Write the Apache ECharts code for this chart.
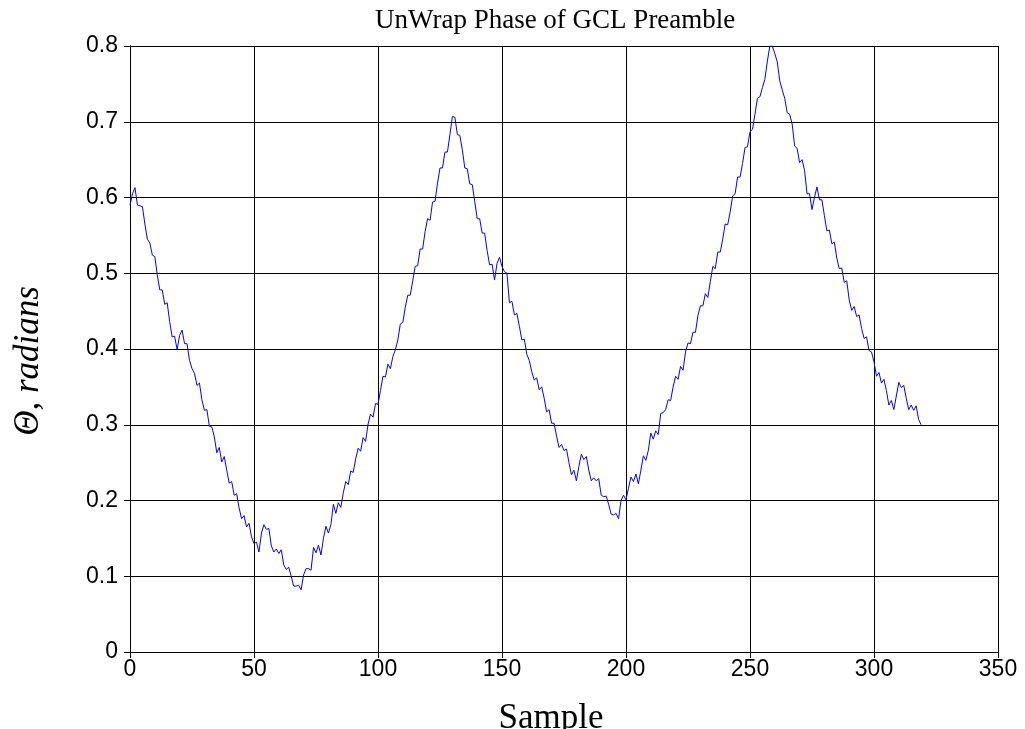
<!DOCTYPE html>
<html>
<head>
<meta charset="utf-8">
<script src="https://cdn.jsdelivr.net/npm/echarts@6/dist/echarts.min.js"></script>
<style>html,body{margin:0;padding:0;background:#fff}#c{width:1025px;height:729px}</style>
</head>
<body>
<div id="c"></div>
<script>
const titleText = 'UnWrap Phase of GCL Preamble';
const xName = 'Sample';
const yName = 'Θ, radians';
const xTickLabels = ['0','50','100','150','200','250','300','350'];
const yTickLabels = ['0','0.1','0.2','0.3','0.4','0.5','0.6','0.7','0.8'];
// unwrapped phase, one value per sample (sample index = position)
const phase = [
0.590,0.605,0.613,0.590,0.589,0.588,0.565,0.545,0.540,0.524,
0.522,0.498,0.478,0.478,0.459,0.461,0.436,0.416,0.417,0.399,
0.418,0.425,0.407,0.407,0.385,0.374,0.368,0.352,0.355,0.333,
0.319,0.320,0.298,0.297,0.284,0.263,0.270,0.251,0.258,0.240,
0.223,0.225,0.207,0.209,0.190,0.176,0.180,0.165,0.170,0.152,
0.143,0.145,0.132,0.157,0.168,0.162,0.163,0.140,0.132,0.136,
0.130,0.135,0.115,0.109,0.112,0.100,0.087,0.087,0.088,0.082,
0.102,0.110,0.110,0.108,0.138,0.131,0.141,0.128,0.150,0.166,
0.157,0.168,0.195,0.183,0.197,0.191,0.210,0.225,0.221,0.239,
0.237,0.255,0.269,0.265,0.283,0.278,0.301,0.314,0.310,0.328,
0.327,0.345,0.364,0.363,0.380,0.374,0.390,0.399,0.412,0.433,
0.435,0.455,0.471,0.471,0.490,0.509,0.510,0.532,0.532,0.555,
0.572,0.570,0.594,0.595,0.619,0.639,0.639,0.660,0.660,0.683,
0.707,0.706,0.683,0.682,0.663,0.639,0.638,0.618,0.617,0.595,
0.572,0.572,0.553,0.553,0.530,0.511,0.512,0.491,0.513,0.521,
0.509,0.502,0.500,0.461,0.463,0.445,0.447,0.430,0.412,0.413,
0.393,0.385,0.370,0.359,0.362,0.346,0.350,0.335,0.317,0.320,
0.302,0.302,0.285,0.270,0.274,0.266,0.268,0.250,0.234,0.240,
0.226,0.245,0.261,0.254,0.258,0.240,0.226,0.230,0.226,0.229,
0.207,0.205,0.206,0.195,0.182,0.181,0.183,0.176,0.200,0.207,
0.201,0.216,0.231,0.225,0.235,0.222,0.240,0.259,0.253,0.266,
0.289,0.281,0.292,0.287,0.315,0.316,0.320,0.333,0.332,0.350,
0.364,0.360,0.377,0.372,0.396,0.408,0.407,0.422,0.422,0.444,
0.457,0.457,0.473,0.468,0.489,0.509,0.506,0.528,0.528,0.545,
0.565,0.564,0.581,0.602,0.605,0.627,0.627,0.645,0.666,0.667,
0.687,0.690,0.710,0.731,0.733,0.745,0.756,0.780,0.800,0.800,
0.790,0.779,0.754,0.742,0.731,0.712,0.710,0.697,0.668,0.665,
0.646,0.650,0.636,0.605,0.605,0.584,0.600,0.614,0.597,0.597,
0.576,0.556,0.557,0.539,0.541,0.520,0.506,0.507,0.488,0.490,
0.465,0.451,0.456,0.443,0.445,0.427,0.414,0.416,0.398,0.396,
0.383,0.364,0.369,0.355,0.360,0.345,0.326,0.332,0.320,0.338,
0.356,0.349,0.352,0.335,0.320,0.326,0.319,0.325,0.307,0.300
];

const chart = echarts.init(document.getElementById('c'), null, {renderer:'canvas'});
const axisLineStyle = {lineStyle:{color:'#000', width:1}};
const fmtX = v => { const i = Math.round(v/50); return xTickLabels[i] !== undefined ? xTickLabels[i] : ''; };
const fmtY = v => { const i = Math.round(v*10); return yTickLabels[i] !== undefined ? yTickLabels[i] : ''; };
chart.setOption({
  animation:false,
  backgroundColor:'#fff',
  title:{
    text:titleText, left:375, top:7, padding:0,
    textStyle:{fontFamily:'Liberation Serif', fontSize:27, fontWeight:'normal', color:'#000'}
  },
  grid:{left:130, right:27, top:46, bottom:77, containLabel:false, outerBoundsMode:'none'},
  xAxis:[{
    type:'value', min:0, max:350, interval:50, position:'bottom',
    name:xName, nameLocation:'middle', nameGap:49,
    nameTextStyle:{fontFamily:'Liberation Serif', fontSize:35, color:'#000', padding:[0,26,0,0]},
    axisLine:axisLineStyle,
    axisTick:{show:true, inside:true, length:6, lineStyle:{color:'#000'}},
    axisLabel:{formatter:fmtX, fontFamily:'Liberation Sans', fontSize:23, color:'#000', margin:6},
    splitLine:{show:true, lineStyle:{color:'#000', width:1}}
  },{
    type:'value', min:0, max:350, interval:50, position:'top',
    axisLine:axisLineStyle,
    axisTick:{show:true, inside:true, length:6, lineStyle:{color:'#000'}},
    axisLabel:{show:false}, splitLine:{show:false}
  }],
  yAxis:[{
    type:'value', min:0, max:0.8, interval:0.1, position:'left',
    name:yName, nameLocation:'middle', nameGap:84, nameRotate:90,
    nameTextStyle:{fontFamily:'Liberation Serif', fontSize:35, fontStyle:'italic', color:'#000', padding:[0,24,0,0]},
    axisLine:axisLineStyle,
    axisTick:{show:true, inside:true, length:6, lineStyle:{color:'#000'}},
    axisLabel:{formatter:fmtY, fontFamily:'Liberation Sans', fontSize:23, color:'#000', margin:12},
    splitLine:{show:true, lineStyle:{color:'#000', width:1}}
  },{
    type:'value', min:0, max:0.8, interval:0.1, position:'right',
    axisLine:axisLineStyle,
    axisTick:{show:true, inside:true, length:6, lineStyle:{color:'#000'}},
    axisLabel:{show:false}, splitLine:{show:false}
  }],
  series:[{
    type:'line', xAxisIndex:0, yAxisIndex:0,
    data: phase.map((v,i)=>[i,v]),
    showSymbol:false, symbol:'none', clip:true,
    lineStyle:{color:'#0000ff', width:1},
    silent:true
  }]
});
</script>
</body>
</html>
